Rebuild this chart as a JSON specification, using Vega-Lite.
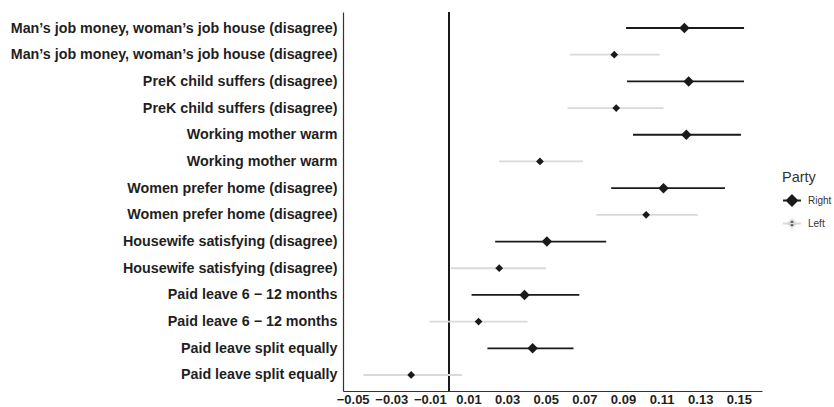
{
  "$schema": "https://vega.github.io/schema/vega-lite/v6.json",
  "width": 419,
  "height": 379,
  "autosize": {"type": "none"},
  "padding": {"left": 343, "top": 12, "right": 72, "bottom": 16},
  "background": "white",
  "config": {
    "view": {"stroke": null},
    "font": "Liberation Sans",
    "axis": {"grid": false, "domainColor": "#333333", "domainWidth": 1.2, "ticks": false}
  },
  "data": {
    "values": [
      {"key": "Man’s job money, woman’s job house (disagree)|R", "party": "Right", "est": 0.1218, "lo": 0.0916, "hi": 0.1527},
      {"key": "Man’s job money, woman’s job house (disagree)|L", "party": "Left", "est": 0.0855, "lo": 0.0625, "hi": 0.109},
      {"key": "PreK child suffers (disagree)|R", "party": "Right", "est": 0.124, "lo": 0.0921, "hi": 0.1527},
      {"key": "PreK child suffers (disagree)|L", "party": "Left", "est": 0.0865, "lo": 0.0613, "hi": 0.111},
      {"key": "Working mother warm|R", "party": "Right", "est": 0.1228, "lo": 0.0952, "hi": 0.1511},
      {"key": "Working mother warm|L", "party": "Left", "est": 0.047, "lo": 0.0259, "hi": 0.0693},
      {"key": "Women prefer home (disagree)|R", "party": "Right", "est": 0.111, "lo": 0.0839, "hi": 0.1428},
      {"key": "Women prefer home (disagree)|L", "party": "Left", "est": 0.102, "lo": 0.0762, "hi": 0.1288},
      {"key": "Housewife satisfying (disagree)|R", "party": "Right", "est": 0.0506, "lo": 0.0238, "hi": 0.0813},
      {"key": "Housewife satisfying (disagree)|L", "party": "Left", "est": 0.0259, "lo": 0.0009, "hi": 0.0501},
      {"key": "Paid leave 6 − 12 months|R", "party": "Right", "est": 0.039, "lo": 0.0116, "hi": 0.0674},
      {"key": "Paid leave 6 − 12 months|L", "party": "Left", "est": 0.0152, "lo": -0.0102, "hi": 0.0406},
      {"key": "Paid leave split equally|R", "party": "Right", "est": 0.0432, "lo": 0.0198, "hi": 0.0644},
      {"key": "Paid leave split equally|L", "party": "Left", "est": -0.0197, "lo": -0.0444, "hi": 0.0066}
    ]
  },
  "layer": [
    {
      "mark": {"type": "rule", "color": "#1a1a1a", "strokeWidth": 1.3},
      "encoding": {"x": {"datum": 0, "type": "quantitative"}}
    },
    {
      "mark": {"type": "rule", "strokeWidth": 1.8},
      "encoding": {
        "y": {
          "field": "key",
          "type": "ordinal",
          "sort": null,
          "scale": {"type": "point", "padding": 0.6},
          "axis": {
            "title": null,
            "labelExpr": "slice(datum.label, 0, -2)",
            "labelFont": "Liberation Sans",
            "labelFontWeight": "bold",
            "labelFontSize": 14.3,
            "labelColor": "#1f1f1f",
            "labelPadding": 6,
            "labelLimit": 400
          }
        },
        "x": {
          "field": "lo",
          "type": "quantitative",
          "scale": {"domain": [-0.055, 0.162], "nice": false, "zero": false},
          "axis": {
            "title": null,
            "values": [-0.05, -0.03, -0.01, 0.01, 0.03, 0.05, 0.07, 0.09, 0.11, 0.13, 0.15],
            "format": ".2f",
            "labelFont": "Liberation Sans",
            "labelFontWeight": "bold",
            "labelFontSize": 13,
            "labelColor": "#1f1f1f",
            "labelPadding": 2,
            "labelOverlap": false,
            "labelFlush": false
          }
        },
        "x2": {"field": "hi"},
        "color": {
          "field": "party",
          "type": "nominal",
          "scale": {"domain": ["Right", "Left"], "range": ["#1a1a1a", "#d9d9d9"]},
          "legend": {
            "title": "Party",
            "orient": "none",
            "legendX": 439,
            "legendY": 159,
            "titleFont": "Liberation Sans",
            "titleFontSize": 14.5,
            "titleFontWeight": "normal",
            "titleColor": "#333333",
            "titlePadding": 5,
            "labelFont": "Liberation Sans",
            "labelFontSize": 10,
            "labelColor": "#333333",
            "labelOffset": 6,
            "rowPadding": 4,
            "symbolSize": 324,
            "symbolStrokeWidth": 1.8,
            "encode": {
              "symbols": {
                "update": {
                  "shape": {"signal": "datum.value === 'Right' ? 'M-1,0L1,0M0,-0.58L0.58,0L0,0.58L-0.58,0Z' : 'M-1,0L1,0M0,-0.45L0.45,0L0,0.45L-0.45,0Z'"},
                  "fill": {"value": "#1a1a1a"},
                  "fillOpacity": {"value": 1}
                }
              }
            }
          }
        }
      }
    },
    {
      "mark": {"type": "point", "shape": "diamond", "filled": true, "opacity": 1, "color": "#1a1a1a"},
      "encoding": {
        "y": {"field": "key", "type": "ordinal", "sort": null},
        "x": {"field": "est", "type": "quantitative"},
        "size": {"condition": {"test": "datum.party === 'Right'", "value": 110}, "value": 60}
      }
    }
  ]
}
